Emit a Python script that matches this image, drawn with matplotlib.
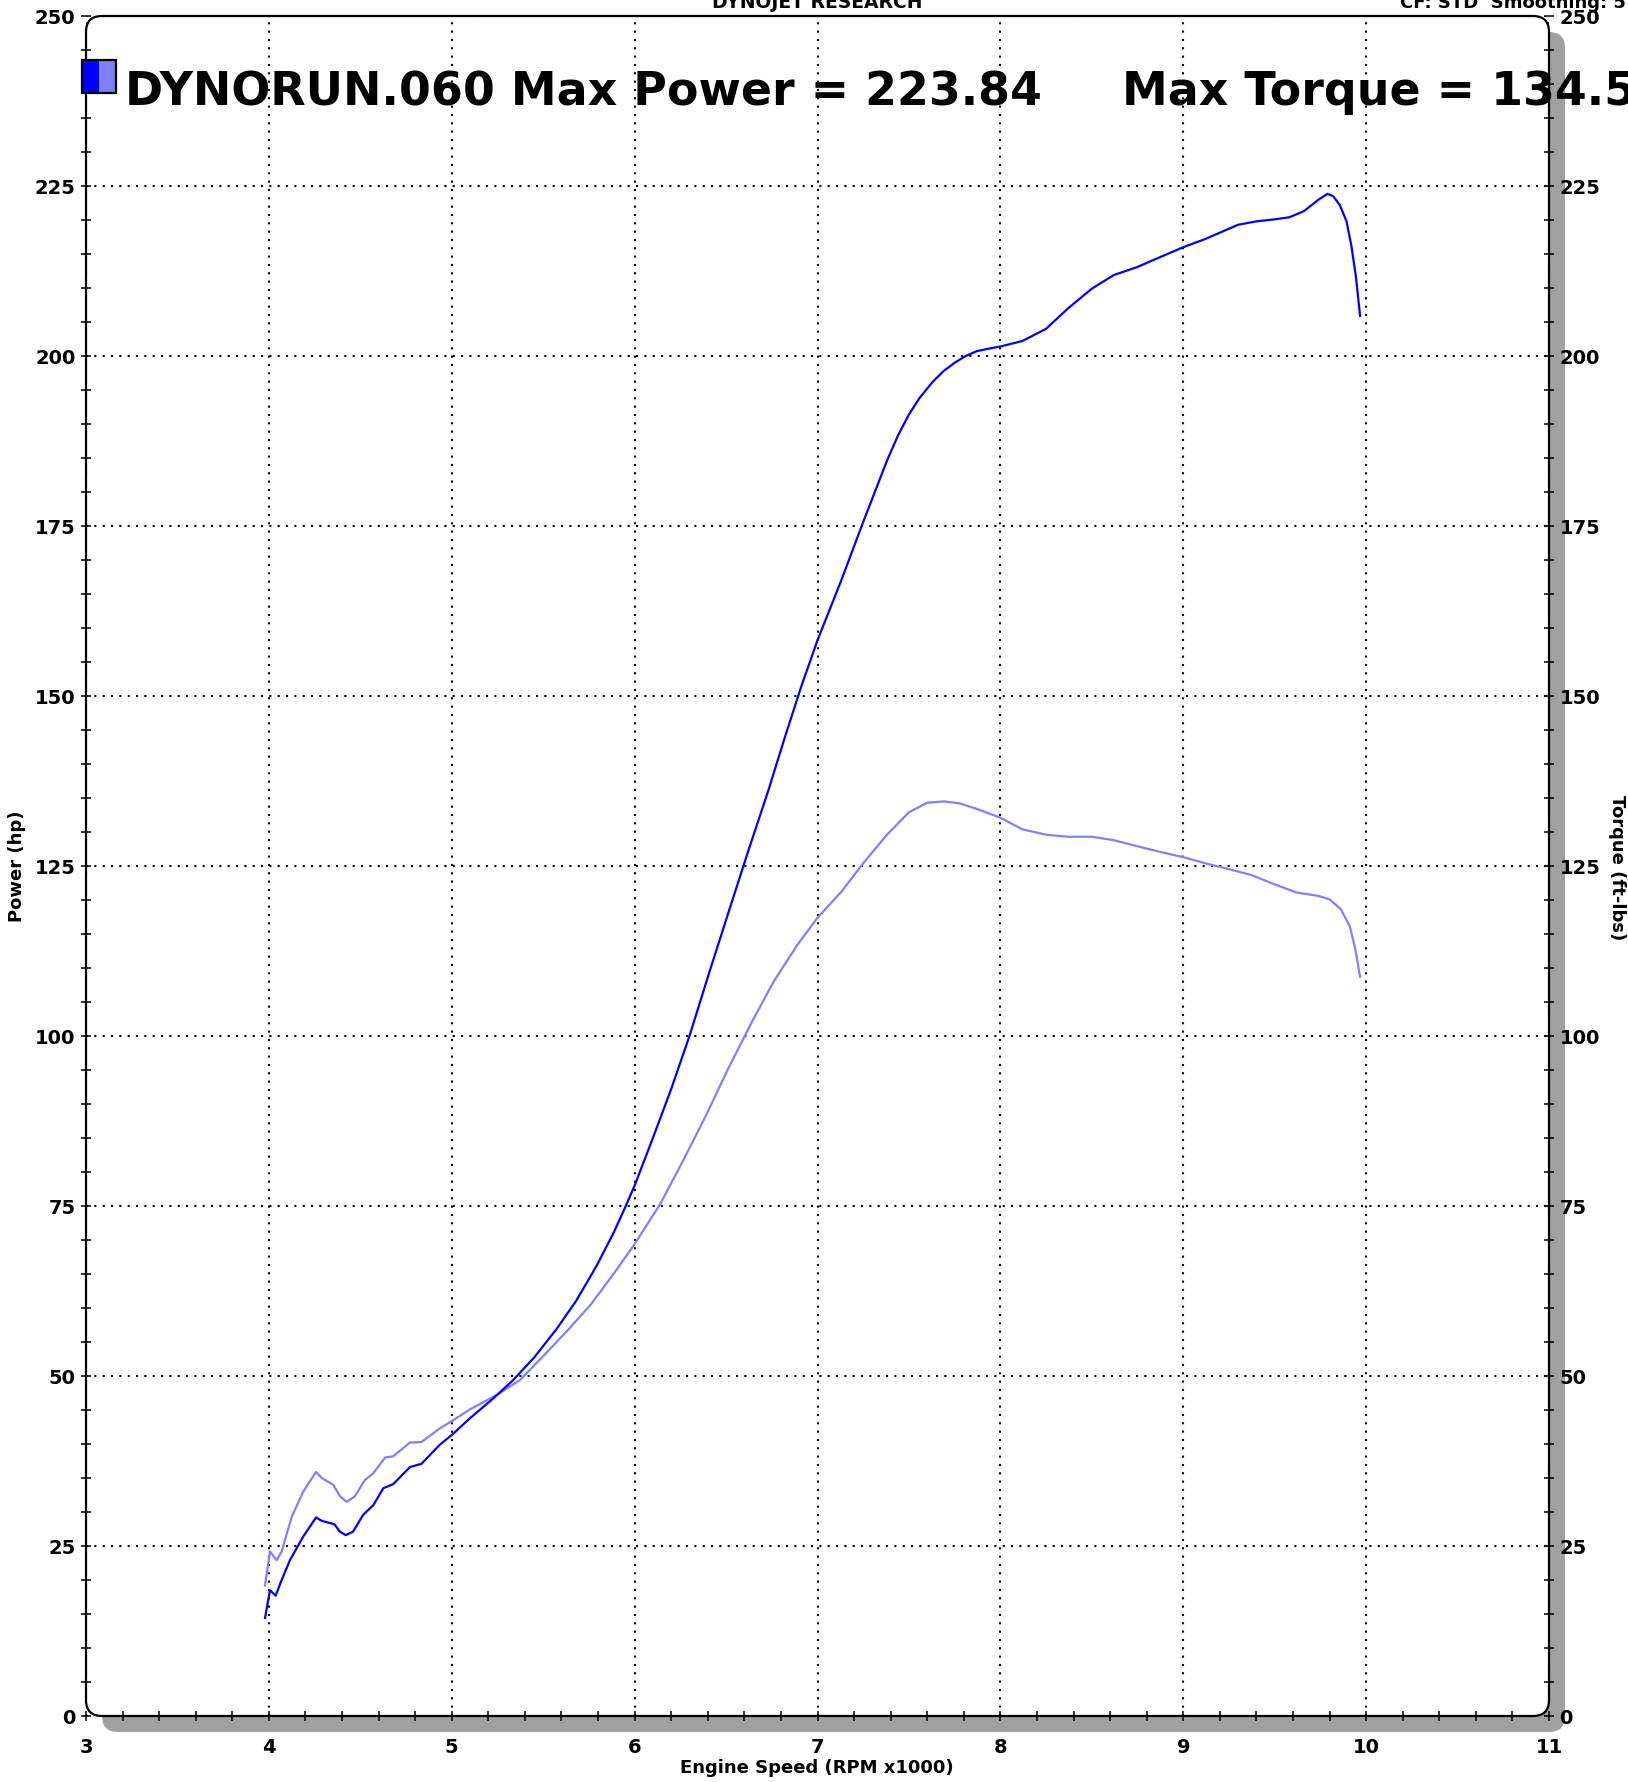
import matplotlib
matplotlib.use("Agg")
import matplotlib.pyplot as plt
import matplotlib.transforms as mtransforms
from matplotlib.patches import FancyBboxPatch, Rectangle
from matplotlib.ticker import MultipleLocator

# ---------------- data ----------------
rpm_power = [3.979, 4.006, 4.037, 4.07, 4.115, 4.188, 4.258, 4.289, 4.358, 4.389, 4.42, 4.46,
             4.516, 4.571, 4.626, 4.68, 4.771, 4.835, 4.935, 4.999, 5.1, 5.227, 5.336,
             5.45, 5.573, 5.679, 5.79, 5.884, 5.94, 6.0, 6.1, 6.2, 6.3, 6.41, 6.51, 6.62, 6.73, 6.82,
             6.91, 7.0, 7.13, 7.25, 7.38, 7.44, 7.5, 7.56, 7.63, 7.69, 7.75, 7.81, 7.87, 7.94, 8.0,
             8.12, 8.25, 8.37, 8.5, 8.62, 8.75, 8.87, 9.0, 9.12, 9.24, 9.3, 9.4, 9.5, 9.58, 9.66,
             9.74, 9.789, 9.82, 9.856, 9.893, 9.92, 9.944, 9.967]
power_hp = [14.4, 18.5, 17.7, 20.0, 22.9, 26.4, 29.2, 28.7, 28.2, 27.1, 26.6, 27.1,
            29.6, 31.0, 33.5, 34.1, 36.6, 37.1, 39.9, 41.3, 43.8, 46.7, 49.4,
            52.7, 56.9, 61.0, 66.1, 71.0, 74.3, 78.0, 85.0, 92.2, 100.0, 109.5, 117.9, 127.1, 136.0, 143.8,
            151.3, 158.2, 167.0, 175.6, 184.6, 188.3, 191.4, 193.9, 196.2, 197.8, 199.0, 200.0, 200.7, 201.1, 201.4,
            202.2, 204.0, 207.0, 209.9, 211.9, 213.1, 214.5, 216.0, 217.2, 218.6, 219.3, 219.8, 220.1, 220.4, 221.3,
            223.0, 223.84, 223.5, 222.2, 219.8, 216.1, 211.7, 205.9]

rpm_torque = [3.979, 4.006, 4.043, 4.07, 4.125, 4.188, 4.258, 4.289, 4.352, 4.389, 4.425, 4.47,
              4.525, 4.571, 4.635, 4.68, 4.771, 4.835, 4.935, 5.008, 5.1, 5.245, 5.373,
              5.51, 5.64, 5.76, 5.89, 6.0, 6.14, 6.26, 6.39, 6.51, 6.64, 6.76, 6.89, 7.0,
              7.13, 7.25, 7.38, 7.5, 7.6, 7.69, 7.78, 7.87, 8.0, 8.12, 8.25, 8.37, 8.5, 8.62,
              8.75, 8.87, 9.0, 9.12, 9.24, 9.37, 9.49, 9.62, 9.74, 9.8, 9.86, 9.91, 9.94, 9.967]
torque_ftlb = [19.2, 24.2, 22.9, 24.2, 29.3, 33.0, 35.9, 35.0, 34.0, 32.3, 31.5, 32.3,
               34.7, 35.7, 38.0, 38.2, 40.2, 40.3, 42.3, 43.5, 45.1, 47.2, 49.4,
               53.2, 56.9, 60.5, 65.2, 69.4, 75.3, 81.4, 88.3, 95.1, 102.0, 108.0, 113.4, 117.4,
               121.2, 125.4, 129.6, 132.9, 134.3, 134.5, 134.2, 133.4, 132.1, 130.4, 129.6, 129.3, 129.3, 128.8,
               127.9, 127.1, 126.3, 125.4, 124.6, 123.7, 122.4, 121.1, 120.6, 120.1, 118.7, 116.2, 112.9, 108.7]

x_ticks = [3, 4, 5, 6, 7, 8, 9, 10, 11]
y_ticks = [0, 25, 50, 75, 100, 125, 150, 175, 200, 225, 250]
run_name = "DYNORUN.060"
max_power = "223.84"
max_torque = "134.5"

# ---------------- figure ----------------
W, H = 1628, 1782
fig = plt.figure(figsize=(W / 100, H / 100), dpi=100)
fig.patch.set_facecolor("white")
px = mtransforms.Affine2D().scale(1.0 / fig.dpi) + fig.dpi_scale_trans  # pixel coords, origin bottom-left

x0, y0, w, h = 86, 66, 1463, 1700
r = 16
shadow = FancyBboxPatch((x0 + 16, y0 - 16), w, h, boxstyle=f"round,pad=0,rounding_size={r}",
                        transform=px, facecolor="#a0a0a0", edgecolor="none", zorder=-2)
fill = FancyBboxPatch((x0, y0), w, h, boxstyle=f"round,pad=0,rounding_size={r}",
                      transform=px, facecolor="white", edgecolor="none", zorder=-1)
frame = FancyBboxPatch((x0, y0), w, h, boxstyle=f"round,pad=0,rounding_size={r}",
                       transform=px, facecolor="none", edgecolor="black", linewidth=1.6, zorder=2.5)
for p in (shadow, fill, frame):
    fig.patches.append(p)

ax = fig.add_axes([x0 / W, y0 / H, w / W, h / H])
ax.patch.set_visible(False)
for s in ax.spines.values():
    s.set_visible(False)

ax.plot(rpm_torque, torque_ftlb, color="#8080ff", lw=1.6, zorder=3)
ax.plot(rpm_power, power_hp, color="#0000ff", lw=1.6, zorder=4)

ax.set_xlim(3, 11)
ax.set_ylim(0, 250)
ax.set_xticks(x_ticks)
ax.set_yticks(y_ticks)
ax.xaxis.set_minor_locator(MultipleLocator(0.2))
ax.yaxis.set_minor_locator(MultipleLocator(5))
ax.grid(True, which="major", color="black", linestyle=(0, (1, 3)), linewidth=1.5)
ax.tick_params(which="both", direction="inout", length=7, width=1.1, color="black",
               left=True, right=True, bottom=True, top=False,
               labelleft=True, labelright=True, labelbottom=True)
ax.tick_params(axis="y", pad=4, labelsize=14)
ax.tick_params(axis="x", pad=12, labelsize=14)
for lab in ax.get_xticklabels() + ax.get_yticklabels():
    lab.set_fontweight("bold")
for t in ax.yaxis.get_major_ticks():
    t.label2.set_fontweight("bold")
    t.label2.set_fontsize(14)

# axis labels
fig.text(817 / W, 1 - 1768 / H, "Engine Speed (RPM x1000)", ha="center", va="center",
         fontsize=13, fontweight="bold")
fig.text(17 / W, 1 - 866 / H, "Power (hp)", ha="center", va="center", rotation=90,
         fontsize=13, fontweight="bold")
fig.text(1617 / W, 1 - 868 / H, "Torque (ft-lbs)", ha="center", va="center", rotation=270,
         fontsize=13, fontweight="bold")

# header texts (partly cut off at the top, as in the reference)
fig.text(817 / W, 1 - 8 / H, "DYNOJET RESEARCH", ha="center", va="baseline",
         fontsize=13.5, fontweight="bold")
fig.text(1400 / W, 1 - 8 / H, "CF: STD  Smoothing: 5", ha="left", va="baseline",
         fontsize=13, fontweight="bold")

# legend square
sq_y = H - 93
fig.patches.append(Rectangle((82, sq_y), 17, 33, transform=px, facecolor="#0000ff",
                             edgecolor="none", zorder=5))
fig.patches.append(Rectangle((99, sq_y), 17, 33, transform=px, facecolor="#8080ff",
                             edgecolor="none", zorder=5))
fig.patches.append(Rectangle((82, sq_y), 34, 33, transform=px, facecolor="none",
                             edgecolor="black", linewidth=1.6, zorder=6))

fig.text(125 / W, 1 - 105 / H, f"{run_name} Max Power = {max_power}", ha="left", va="baseline",
         fontsize=33, fontweight="bold", zorder=7)
fig.text(1122 / W, 1 - 105 / H, f"Max Torque = {max_torque}", ha="left", va="baseline",
         fontsize=33, fontweight="bold", zorder=7)

fig.savefig("out.png", dpi=100)
